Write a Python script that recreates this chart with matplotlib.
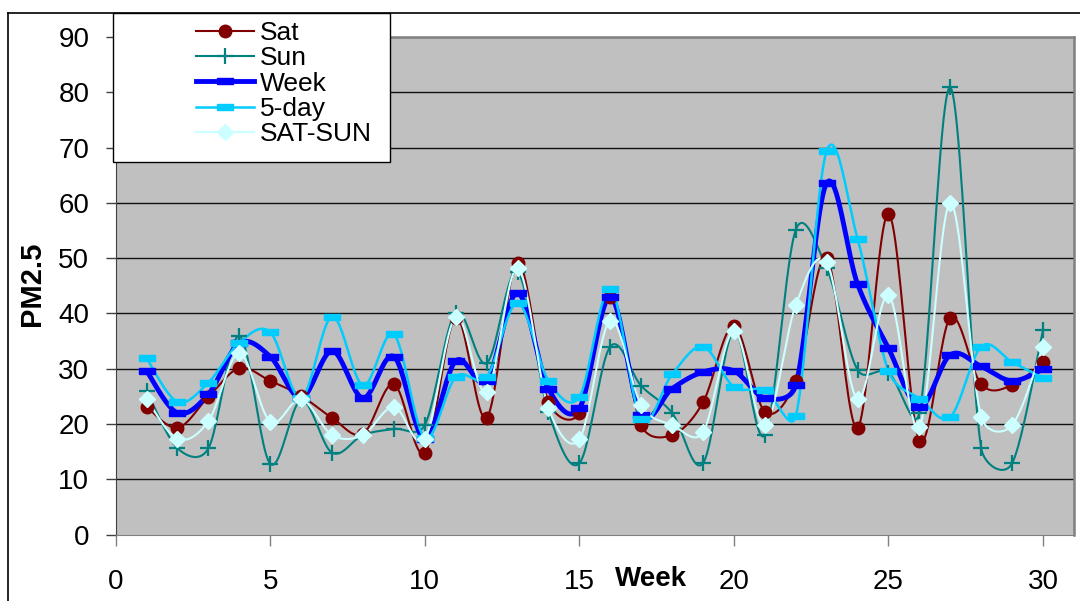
import numpy as np
import matplotlib
matplotlib.use("Agg")
import matplotlib.pyplot as plt
from matplotlib.lines import Line2D
from matplotlib.patches import Rectangle

plt.rcParams['font.family'] = ['Liberation Sans', 'DejaVu Sans']

# weekly PM2.5 averages
weeks = np.arange(1, 31)
sat = [23.1, 19.3, 24.9, 30.1, 27.8, 25.1, 21.1, 18.2, 27.2, 14.8,
       39.2, 21.1, 49.2, 24.0, 22.0, 43.0, 19.8, 18.0, 23.9, 37.7,
       22.2, 27.8, 50.1, 19.3, 58.0, 17.0, 39.2, 27.2, 27.0, 31.2]
sun = [26.0, 15.6, 15.6, 35.9, 12.8, 24.3, 14.8, 18.0, 19.1, 19.8,
       40.1, 31.0, 47.5, 22.2, 12.9, 34.0, 26.9, 22.0, 12.9, 36.8,
       18.0, 55.1, 48.2, 29.8, 29.3, 22.0, 80.9, 15.6, 12.9, 37.0]
week = [29.6, 22.0, 25.4, 34.6, 32.2, 24.7, 33.2, 24.7, 32.2, 17.3,
        31.4, 27.8, 43.7, 26.4, 22.8, 43.0, 21.7, 26.4, 29.4, 29.6,
        24.7, 27.0, 63.6, 45.3, 33.7, 23.1, 32.5, 30.4, 27.8, 29.9]
five_day = [31.9, 24.0, 27.5, 34.7, 36.6, 24.7, 39.4, 27.0, 36.2, 17.5,
            28.5, 28.5, 41.9, 27.8, 24.9, 44.4, 20.9, 29.0, 34.0, 26.7,
            26.1, 21.4, 69.4, 53.5, 29.6, 24.6, 21.3, 34.0, 31.2, 28.3]
sat_sun = [24.5, 17.3, 20.5, 32.8, 20.4, 24.5, 18.0, 18.0, 23.1, 17.3,
           39.3, 25.8, 48.2, 22.9, 17.2, 38.7, 23.4, 19.8, 18.5, 36.8,
           19.8, 41.5, 49.3, 24.5, 43.3, 19.5, 60.0, 21.3, 19.8, 34.0]

# pixels per data unit, used so the smoothing works in screen proportions
SX, SY = 30.93, 5.528


def smooth(x, y, n=24):
    # bezier smoothing through every point, handles capped at half a segment
    p = np.column_stack([np.asarray(x, float) * SX, np.asarray(y, float) * SY])
    p = np.vstack([p[:1], p, p[-1:]])
    out = []
    t = np.linspace(0, 1, n)[:, None]
    for i in range(1, len(p) - 2):
        p0, p3 = p[i], p[i + 1]
        seg = np.linalg.norm(p3 - p0)
        d1 = (p3 - p[i - 1]) / 6
        d2 = (p[i + 2] - p0) / 6
        for d in (d1, d2):
            ln = np.linalg.norm(d)
            if ln > seg / 2 and ln > 0:
                d *= (seg / 2) / ln
        c1 = p0 + d1
        c2 = p3 - d2
        b = (1 - t) ** 3 * p0 + 3 * (1 - t) ** 2 * t * c1 \
            + 3 * (1 - t) * t ** 2 * c2 + t ** 3 * p3
        out.append(b)
    out = np.vstack(out)
    return out[:, 0] / SX, out[:, 1] / SY


dash = [(-1.5, -0.5), (1.5, -0.5), (1.5, 0.5), (-1.5, 0.5), (-1.5, -0.5)]

series = [
    ("Sat", sat, dict(color='#800000', lw=1.5, marker='o', ms=9, mec='#800000', mfc='#800000')),
    ("Sun", sun, dict(color='#008080', lw=1.5, marker='+', ms=11, mew=1.6)),
    ("Week", week, dict(color='#0000FF', lw=3.5, marker=dash, ms=11, mec='#0000FF', mfc='#0000FF')),
    ("5-day", five_day, dict(color='#00CCFF', lw=1.8, marker=dash, ms=11, mec='#00CCFF', mfc='#00CCFF')),
    ("SAT-SUN", sat_sun, dict(color='#CCFFFF', lw=1.5, marker='D', ms=8.5, mec='#CCFFFF', mfc='#CCFFFF')),
]

fig = plt.figure(figsize=(10.8, 6.01), dpi=100)
ax = fig.add_axes([0.1071, 0.1106, 0.8873, 0.8278])
ax.set_facecolor('#C0C0C0')

handles = []
for name, vals, st in series:
    sx, sy = smooth(weeks, vals)
    ax.plot(sx, sy, color=st['color'], lw=st['lw'], solid_capstyle='round', zorder=3)
    mk = {k: v for k, v in st.items() if k not in ('color', 'lw')}
    ax.plot(weeks, vals, ls='none', color=st['color'], zorder=4, **mk)
    handles.append(Line2D([0], [0], color=st['color'], lw=st['lw'], **mk))

ax.set_xlim(0, 31)
ax.set_ylim(0, 90)
ax.set_xticks([0, 5, 10, 15, 20, 25, 30])
ax.set_yticks(range(0, 91, 10))
for v in range(10, 90, 10):
    ax.axhline(v, color='#111111', lw=1.0, zorder=1)

for s in ('top', 'right'):
    ax.spines[s].set_color('#808080')
    ax.spines[s].set_linewidth(1.8)
ax.spines['left'].set_color('#404040')
ax.spines['bottom'].set_color('#808080')
ax.tick_params(axis='y', direction='out', length=7, width=1, color='#404040',
               labelsize=20, pad=12)
ax.tick_params(axis='x', direction='out', length=8, width=1, color='#808080',
               labelsize=20, pad=17)

fig.text(32 / 1080, 1 - 284 / 601, 'PM2.5', rotation=90, fontsize=21,
         fontweight='bold', ha='center', va='center')
fig.text(651 / 1080, 1 - 579 / 601, 'Week', fontsize=20, fontweight='bold',
         ha='center', va='center')

# outer chart frame
fig.add_artist(Line2D([8 / 1080, 8 / 1080], [0, 1 - 13 / 601], color='black',
                      lw=1.2, transform=fig.transFigure))
fig.add_artist(Line2D([8 / 1080, 1], [1 - 13 / 601, 1 - 13 / 601], color='black',
                      lw=1.2, transform=fig.transFigure))

# legend box
fig.add_artist(Rectangle((113 / 1080, 1 - 162 / 601), 277 / 1080, 149 / 601,
                         transform=fig.transFigure, facecolor='white',
                         edgecolor='black', lw=1.0, zorder=5))
leg = fig.legend(handles, [s[0] for s in series], loc='upper left',
                 bbox_to_anchor=(196 / 1080, 1 - 21 / 601), frameon=False,
                 fontsize=19, handlelength=2.2, handletextpad=0.22,
                 labelspacing=0.05, borderpad=0, borderaxespad=0)
leg.set_zorder(6)

fig.savefig('out.png', dpi=100)
